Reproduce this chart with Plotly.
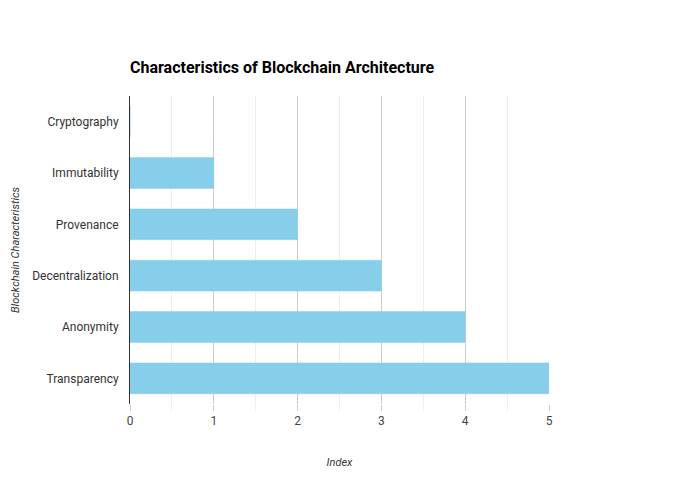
import plotly.graph_objects as go

categories = ["Cryptography", "Immutability", "Provenance", "Decentralization", "Anonymity", "Transparency"]
values = [0, 1, 2, 3, 4, 5]

fig = go.Figure(go.Bar(
    x=values, y=categories, orientation="h",
    marker=dict(color="#87CEEB", line=dict(color="#87CEEB", width=0.5)),
))

fig.update_layout(
    width=680, height=500,
    margin=dict(l=130, r=131, t=96, b=96),
    paper_bgcolor="white", plot_bgcolor="white",
    font=dict(family="Roboto", size=12, color="#444"),
    title=dict(text="<b>Characteristics of Blockchain Architecture</b>", x=0, xref="paper",
               y=1, yref="container", yanchor="top", pad=dict(t=62),
               font=dict(size=16, color="#000", family="Roboto")),
    bargap=0.4,
    showlegend=False,
)
fig.update_xaxes(
    range=[0, 5], dtick=1, showgrid=True, gridcolor="#cccccc", gridwidth=1,
    ticks="outside", ticklen=6, tickcolor="#cccccc",
    minor=dict(dtick=0.5, showgrid=True, gridcolor="#eeeeee", ticks="outside", ticklen=6, tickcolor="#eeeeee"),
    zeroline=False, showline=False, automargin=False,
    tickfont=dict(color="#444"),
    title=dict(text="<i>Index</i>", font=dict(size=11, color="#333"), standoff=30),
)
fig.update_yaxes(
    categoryorder="array", categoryarray=categories[::-1],
    showline=True, linecolor="#333", linewidth=1, showgrid=False,
    ticks="", ticklabelstandoff=8, automargin=False, layer="below traces",
    tickfont=dict(color="#333"),
    title=dict(text="<i>Blockchain Characteristics</i>", font=dict(size=11, color="#333"), standoff=10),
)

fig.write_html("out.html")
